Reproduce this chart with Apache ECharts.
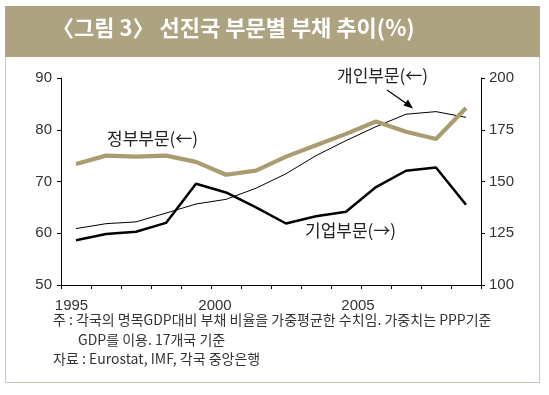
<!DOCTYPE html>
<html>
<head>
<meta charset="utf-8">
<script src="https://cdn.jsdelivr.net/npm/echarts@6/dist/echarts.min.js"></script>
<style>
html,body{margin:0;padding:0;background:#fff;}
#c{width:549px;height:395px;}
</style>
</head>
<body>
<div id="c"></div>
<script>
const years = ['1995','1996','1997','1998','1999','2000','2001','2002','2003','2004','2005','2006','2007','2008'];
const govDebt = [73.4, 75.0, 74.8, 75.0, 73.8, 71.3, 72.1, 74.8, 77.0, 79.2, 81.6, 79.6, 78.2, 84.2];
const privateDebt = [60.9, 61.85, 62.2, 63.9, 65.65, 66.55, 68.7, 71.5, 75.0, 77.9, 80.6, 83.0, 83.5, 82.4];
const corpDebt = [121.6, 124.6, 125.7, 130.0, 148.9, 144.7, 137.5, 129.7, 133.2, 135.4, 147.3, 155.2, 156.8, 138.8];
const leftTicks = {min: 50, max: 90, interval: 10};
const rightTicks = {min: 100, max: 200, interval: 25};

const FONT = "'Liberation Sans', 'Noto Sans CJK KR', sans-serif";
const KFONT = "'Noto Sans CJK KR', sans-serif";
const chart = echarts.init(document.getElementById('c'), null, {renderer: 'canvas'});
chart.setOption({
  animation: false,
  backgroundColor: '#fff',
  grid: {left: 61, right: 68, top: 78, bottom: 110, containLabel: false},
  xAxis: {
    type: 'category', data: years, boundaryGap: true,
    axisLine: {lineStyle: {color: '#000', width: 1}},
    axisTick: {show: true, interval: 0, length: 4, inside: false, lineStyle: {color: '#000'}},
    axisLabel: {
      interval: 4, margin: 13, fontSize: 15, color: '#333', fontFamily: FONT,
      formatter: (v, i) => '{l' + i + '|' + v + '}',
      rich: {
        l0: {fontSize: 15, color: '#333', fontFamily: FONT, padding: [0, 9, 0, 0]},
        l5: {fontSize: 15, color: '#333', fontFamily: FONT, padding: [0, 22, 0, 0]},
        l10: {fontSize: 15, color: '#333', fontFamily: FONT, padding: [0, 36, 0, 0]}
      }
    },
    splitLine: {show: false}
  },
  yAxis: [
    {type: 'value', position: 'left', min: leftTicks.min, max: leftTicks.max, interval: leftTicks.interval,
     axisLine: {show: true, lineStyle: {color: '#000'}},
     axisTick: {show: true, length: 4, lineStyle: {color: '#000'}},
     axisLabel: {margin: 9, fontSize: 15, color: '#333', fontFamily: FONT},
     splitLine: {show: false}},
    {type: 'value', position: 'right', min: rightTicks.min, max: rightTicks.max, interval: rightTicks.interval,
     axisLine: {show: true, lineStyle: {color: '#000'}},
     axisTick: {show: true, length: 4, lineStyle: {color: '#000'}},
     axisLabel: {margin: 8, fontSize: 15, color: '#333', fontFamily: FONT},
     splitLine: {show: false}}
  ],
  series: [
    {name: '개인부문', type: 'line', yAxisIndex: 0, data: privateDebt, symbol: 'none',
     lineStyle: {color: '#000', width: 1}},
    {name: '기업부문', type: 'line', yAxisIndex: 1, data: corpDebt, symbol: 'none',
     lineStyle: {color: '#000', width: 2.5}},
    {name: '정부부문', type: 'line', yAxisIndex: 0, data: govDebt, symbol: 'none',
     lineStyle: {color: '#A89C70', width: 4.2}}
  ],
  graphic: [
    {type: 'rect', z: -10, shape: {x: 5.5, y: 6.5, width: 534, height: 376}, style: {fill: '#fff', stroke: '#C9C5B7', lineWidth: 1}},
    {type: 'rect', z: 0, shape: {x: 5, y: 6, width: 535, height: 51}, style: {fill: '#ADA380'}},
    {type: 'text', z: 1, left: 52, top: 17, style: {text: '〈그림 3〉 선진국 부문별 부채 추이(%)', fill: '#fff', font: "bold 22px 'Noto Sans CJK KR', sans-serif"}},
    {type: 'text', z: 5, left: 337, top: 67, style: {text: '개인부문(←)', fill: '#222', font: "17px " + KFONT}},
    {type: 'text', z: 5, left: 107, top: 130, style: {text: '정부부문(←)', fill: '#222', font: "17px " + KFONT}},
    {type: 'text', z: 5, left: 305, top: 222, style: {text: '기업부문(→)', fill: '#222', font: "17px " + KFONT}},
    {type: 'line', z: 5, shape: {x1: 387, y1: 90, x2: 410, y2: 106}, style: {stroke: '#000', lineWidth: 1.2}},
    {type: 'polygon', z: 5, shape: {points: [[413, 108.5], [403.5, 105.5], [408, 99.5]]}, style: {fill: '#000'}},
    {type: 'text', z: 5, left: 53, top: 313, style: {text: '주 : 각국의 명목GDP대비 부채 비율을 가중평균한 수치임. 가중치는 PPP기준', fill: '#333', font: "14px " + KFONT}},
    {type: 'text', z: 5, left: 78, top: 333, style: {text: 'GDP를 이용. 17개국 기준', fill: '#333', font: "14px " + KFONT}},
    {type: 'text', z: 5, left: 53, top: 352, style: {text: '자료 : Eurostat, IMF, 각국 중앙은행', fill: '#333', font: "14px " + KFONT}}
  ]
});
</script>
</body>
</html>
